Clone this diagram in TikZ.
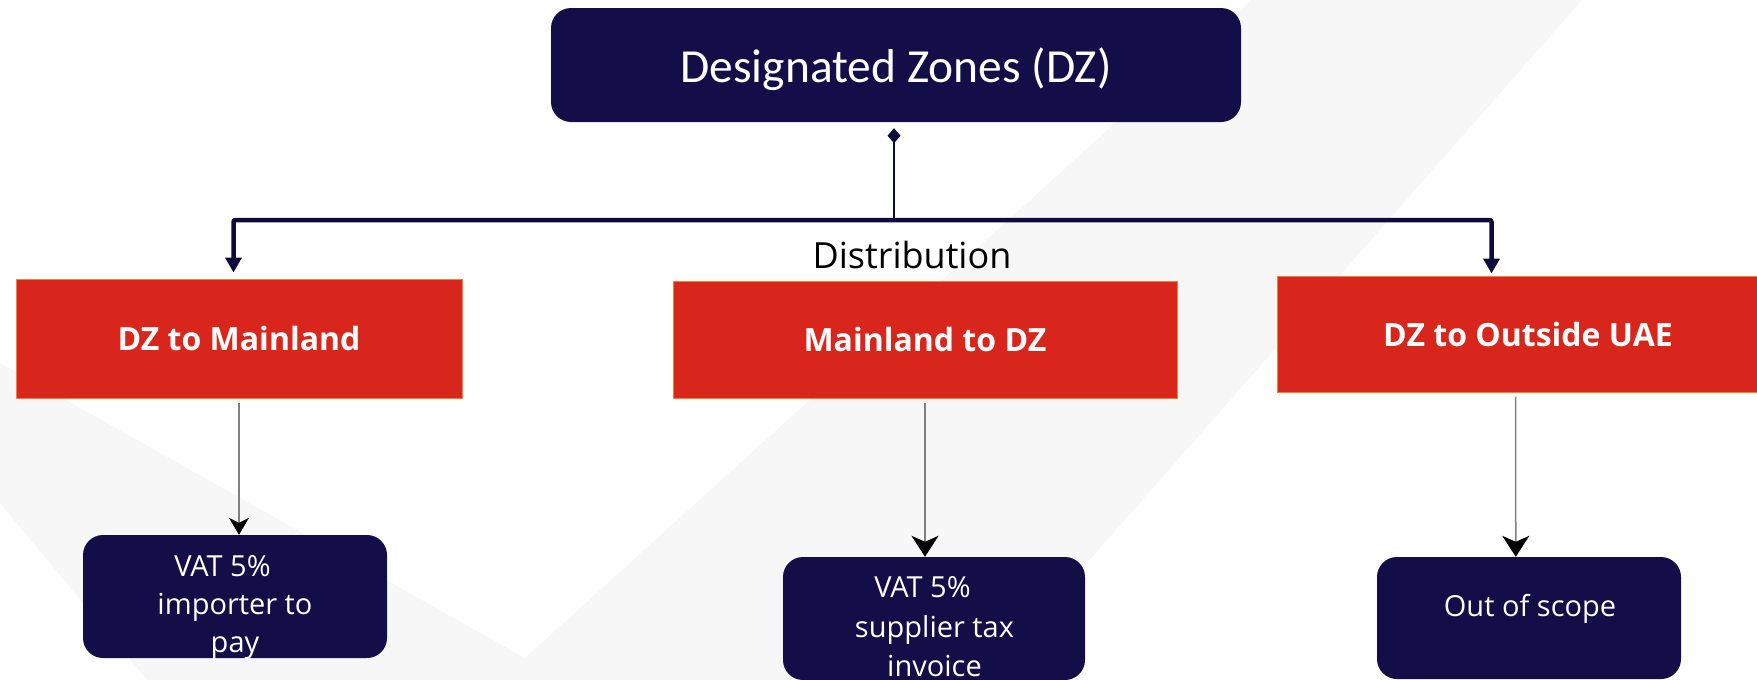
\documentclass[tikz,border=0pt]{standalone}
\usepackage{fontspec}
\setmainfont{Open Sans}
\newfontfamily\titlefont{Carlito}
\usetikzlibrary{arrows.meta,calc}

\definecolor{navy}{RGB}{20,14,72}
\definecolor{linknavy}{RGB}{14,10,58}
\definecolor{zonered}{RGB}{217,38,28}
\definecolor{zoneedge}{RGB}{240,128,60}
\definecolor{bggray}{RGB}{247,247,247}
\definecolor{leggray}{RGB}{128,128,128}

\begin{document}
\begin{tikzpicture}[x=1pt,y=-1pt,
  navybox/.style={fill=navy, rounded corners=20pt, text=white, inner sep=0pt},
  redbox/.style={fill=zonered, draw=zoneedge, line width=1pt, text=white,
    font=\fontsize{32pt}{38pt}\selectfont\bfseries, inner sep=0pt},
  outcome/.style={text=white, align=center, inner sep=0pt},
  trunk/.style={draw=linknavy, line width=4.5pt, rounded corners=2pt,
    -{Triangle[length=15pt,width=16pt]}},
  stem/.style={draw=linknavy, line width=2pt},
  leg/.style={draw=leggray, line width=1.5pt,
    -{Stealth[black,length=17pt,width=20pt,inset=5pt]}},
  bigleg/.style={draw=leggray, line width=1.5pt,
    -{Stealth[black,length=21pt,width=27pt,inset=6pt]}}
]
\useasboundingbox (0,0) rectangle (1757,680);
\clip (0,0) rectangle (1757,680);

% light chevron in the background
\fill[bggray] (0,363) -- (525,658) -- (1251,0) -- (1582,0) -- (984,680)
  -- (147,680) -- (0,503) -- cycle;

% root
\node[navybox, minimum width=690pt, minimum height=114pt,
  font=\titlefont\fontsize{47.5pt}{52pt}\selectfont, text depth=0pt]
  (top) at (896,65) {Designated Zones (DZ)};

% distribution routes
\node[redbox, minimum width=446pt, minimum height=119pt] (r1) at (239,338.5) {DZ to Mainland};
\node[redbox, minimum width=504pt, minimum height=117pt] (r2) at (925,339.5) {Mainland to DZ};
\node[redbox, minimum width=502pt, minimum height=116pt] (r3) at (1528,334) {DZ to Outside UAE};

% VAT outcomes
\node[navybox, minimum width=304pt, minimum height=123pt] (b1) at (235,596.5) {};
\node[navybox, minimum width=302pt, minimum height=123pt] (b2) at (934,618.5) {};
\node[navybox, minimum width=304pt, minimum height=122pt] (b3) at (1529,618) {};

\node[outcome, font=\fontsize{29pt}{38pt}\selectfont] (b1t) at (235,607)
  {VAT 5\%\hspace*{25pt}\\importer to\\pay};
\node[outcome, font=\fontsize{29pt}{39.5pt}\selectfont] (b2t) at (934.5,627)
  {VAT 5\%\hspace*{24pt}\\supplier tax\\invoice};
\node[outcome, font=\fontsize{29pt}{38pt}\selectfont, anchor=base] (b3t) at (1530,616)
  {Out of scope};

% connectors
\coordinate (hub) at (894,220);
\draw[stem, {Diamond[length=15pt,width=13pt]}-] ([xshift=-2pt,yshift=-6pt]top.south) -- (hub);
\draw[trunk] (hub) -| ([xshift=218pt,yshift=6pt]r1.north west);
\draw[trunk] (hub) -| ([xshift=215pt,yshift=2pt]r3.north west);

\node[font=\fontsize{36pt}{40pt}\selectfont, anchor=base, inner sep=0pt]
  (dist) at (912,268) {Distribution};

\draw[leg] ([yshift=-4pt]r1.south) -- (r1.south |- b1.north);
\draw[bigleg] ([yshift=-4pt]r2.south) -- (r2.south |- b2.north);
\draw[bigleg] ([xshift=239pt,yshift=-4pt]r3.south west) -- ([xshift=139pt]b3.north west);
\end{tikzpicture}
\end{document}
